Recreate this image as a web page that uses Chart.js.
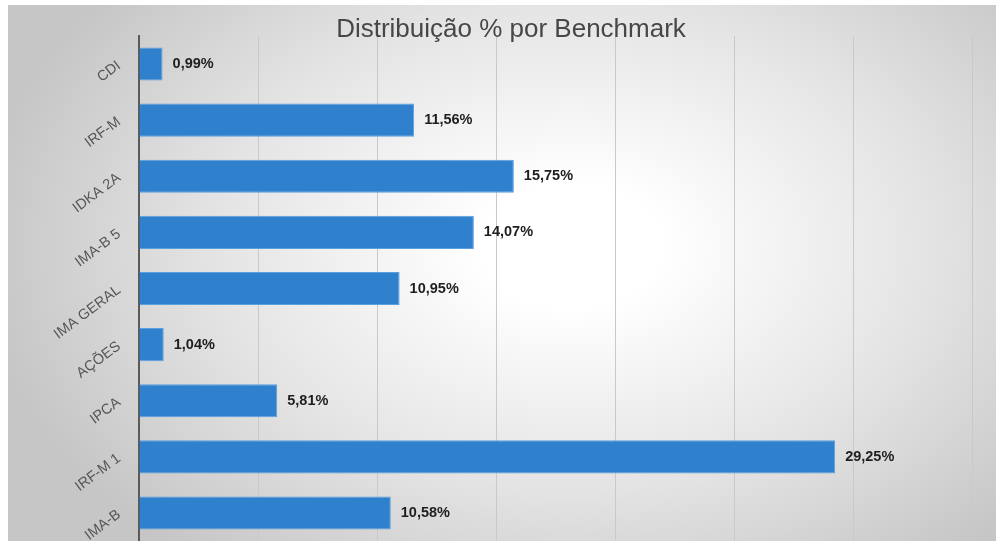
<!DOCTYPE html>
<html>
<head>
<meta charset="utf-8">
<script src="https://cdn.jsdelivr.net/npm/chart.js@4/dist/chart.umd.min.js"></script>
<style>
  html, body { margin: 0; padding: 0; background: #fff; overflow: hidden; }
  #bg {
    position: absolute; left: 8px; top: 5px; width: 988px; height: 536px;
    background: radial-gradient(ellipse 60% 75% at 57% 45%, #ffffff 15%, #e4e4e4 60%, #c6c6c6 100%);
  }
  #wrap { position: absolute; left: 0; top: 0; width: 996px; height: 541px; }
</style>
</head>
<body>
<div id="bg"></div>
<div id="wrap"><canvas id="chart"></canvas></div>
<script>
// data
let categories = ['CDI', 'IRF-M', 'IDKA 2A', 'IMA-B 5', 'IMA GERAL', 'AÇÕES', 'IPCA', 'IRF-M 1', 'IMA-B']
let shares = [0.99, 11.56, 15.75, 14.07, 10.95, 1.04, 5.81, 29.25, 10.58]
let xTicks = [0, 5, 10, 15, 20, 25, 30, 35]
let chartTitle = 'Distribuição % por Benchmark'

let fontName = '"Liberation Sans", Arial, Helvetica, sans-serif'

// title sits a bit right of the canvas centre, so it is drawn by hand
let titleDraw = {
    id: 'titleDraw',
    afterDraw(chart) {
        let ctx = chart.ctx
        ctx.save()
        ctx.font = '26px ' + fontName
        ctx.fillStyle = '#474747'
        ctx.textAlign = 'center'
        ctx.textBaseline = 'middle'
        ctx.fillText(chartTitle, 511, 30)
        ctx.restore()
    }
}

// writes "11,56%" next to the end of each bar
let valueLabels = {
    id: 'valueLabels',
    afterDatasetsDraw(chart) {
        let ctx = chart.ctx
        let meta = chart.getDatasetMeta(0)
        ctx.save()
        ctx.font = 'bold 14.5px ' + fontName
        ctx.fillStyle = '#1e1e1e'
        ctx.textAlign = 'left'
        ctx.textBaseline = 'middle'
        meta.data.forEach(function(bar, i) {
            let txt = shares[i].toFixed(2).replace('.', ',') + '%'
            ctx.fillText(txt, bar.x + 10, bar.y)
        })
        ctx.restore()
    }
}

let ctx = document.querySelector('#chart').getContext('2d')

let benchChart = new Chart(ctx, {
    type: 'bar',
    data: {
        labels: categories,
        datasets: [{
            data: shares,
            backgroundColor: '#2f80cd',
            borderColor: '#5aa0e0',
            borderWidth: 1,
            barPercentage: 0.72,
            categoryPercentage: 0.82
        }]
    },
    options: {
        indexAxis: 'y',
        responsive: true,
        maintainAspectRatio: false,
        animation: false,
        layout: { padding: { left: 0, right: 24, top: 36, bottom: 0 } },
        plugins: {
            legend: { display: false },
            tooltip: { enabled: false },
            title: { display: false }
        },
        scales: {
            x: {
                min: xTicks[0],
                max: xTicks[xTicks.length - 1],
                ticks: { display: false, stepSize: 5 },
                grid: { color: '#c9c9c9', lineWidth: 1, drawTicks: false },
                border: { display: false },
                afterFit(scale) { scale.height = 0 }
            },
            y: {
                grid: { display: false },
                border: { display: true, color: '#5a5a5a', width: 2 },
                ticks: {
                    color: '#565656',
                    font: { family: fontName, size: 14.5 },
                    minRotation: 37,
                    maxRotation: 37,
                    padding: 12
                },
                afterFit(scale) {
                    scale.width = 139
                    scale.paddingTop = 0
                    scale.paddingBottom = 0
                }
            }
        }
    },
    plugins: [valueLabels, titleDraw]
})
</script>
</body>
</html>
